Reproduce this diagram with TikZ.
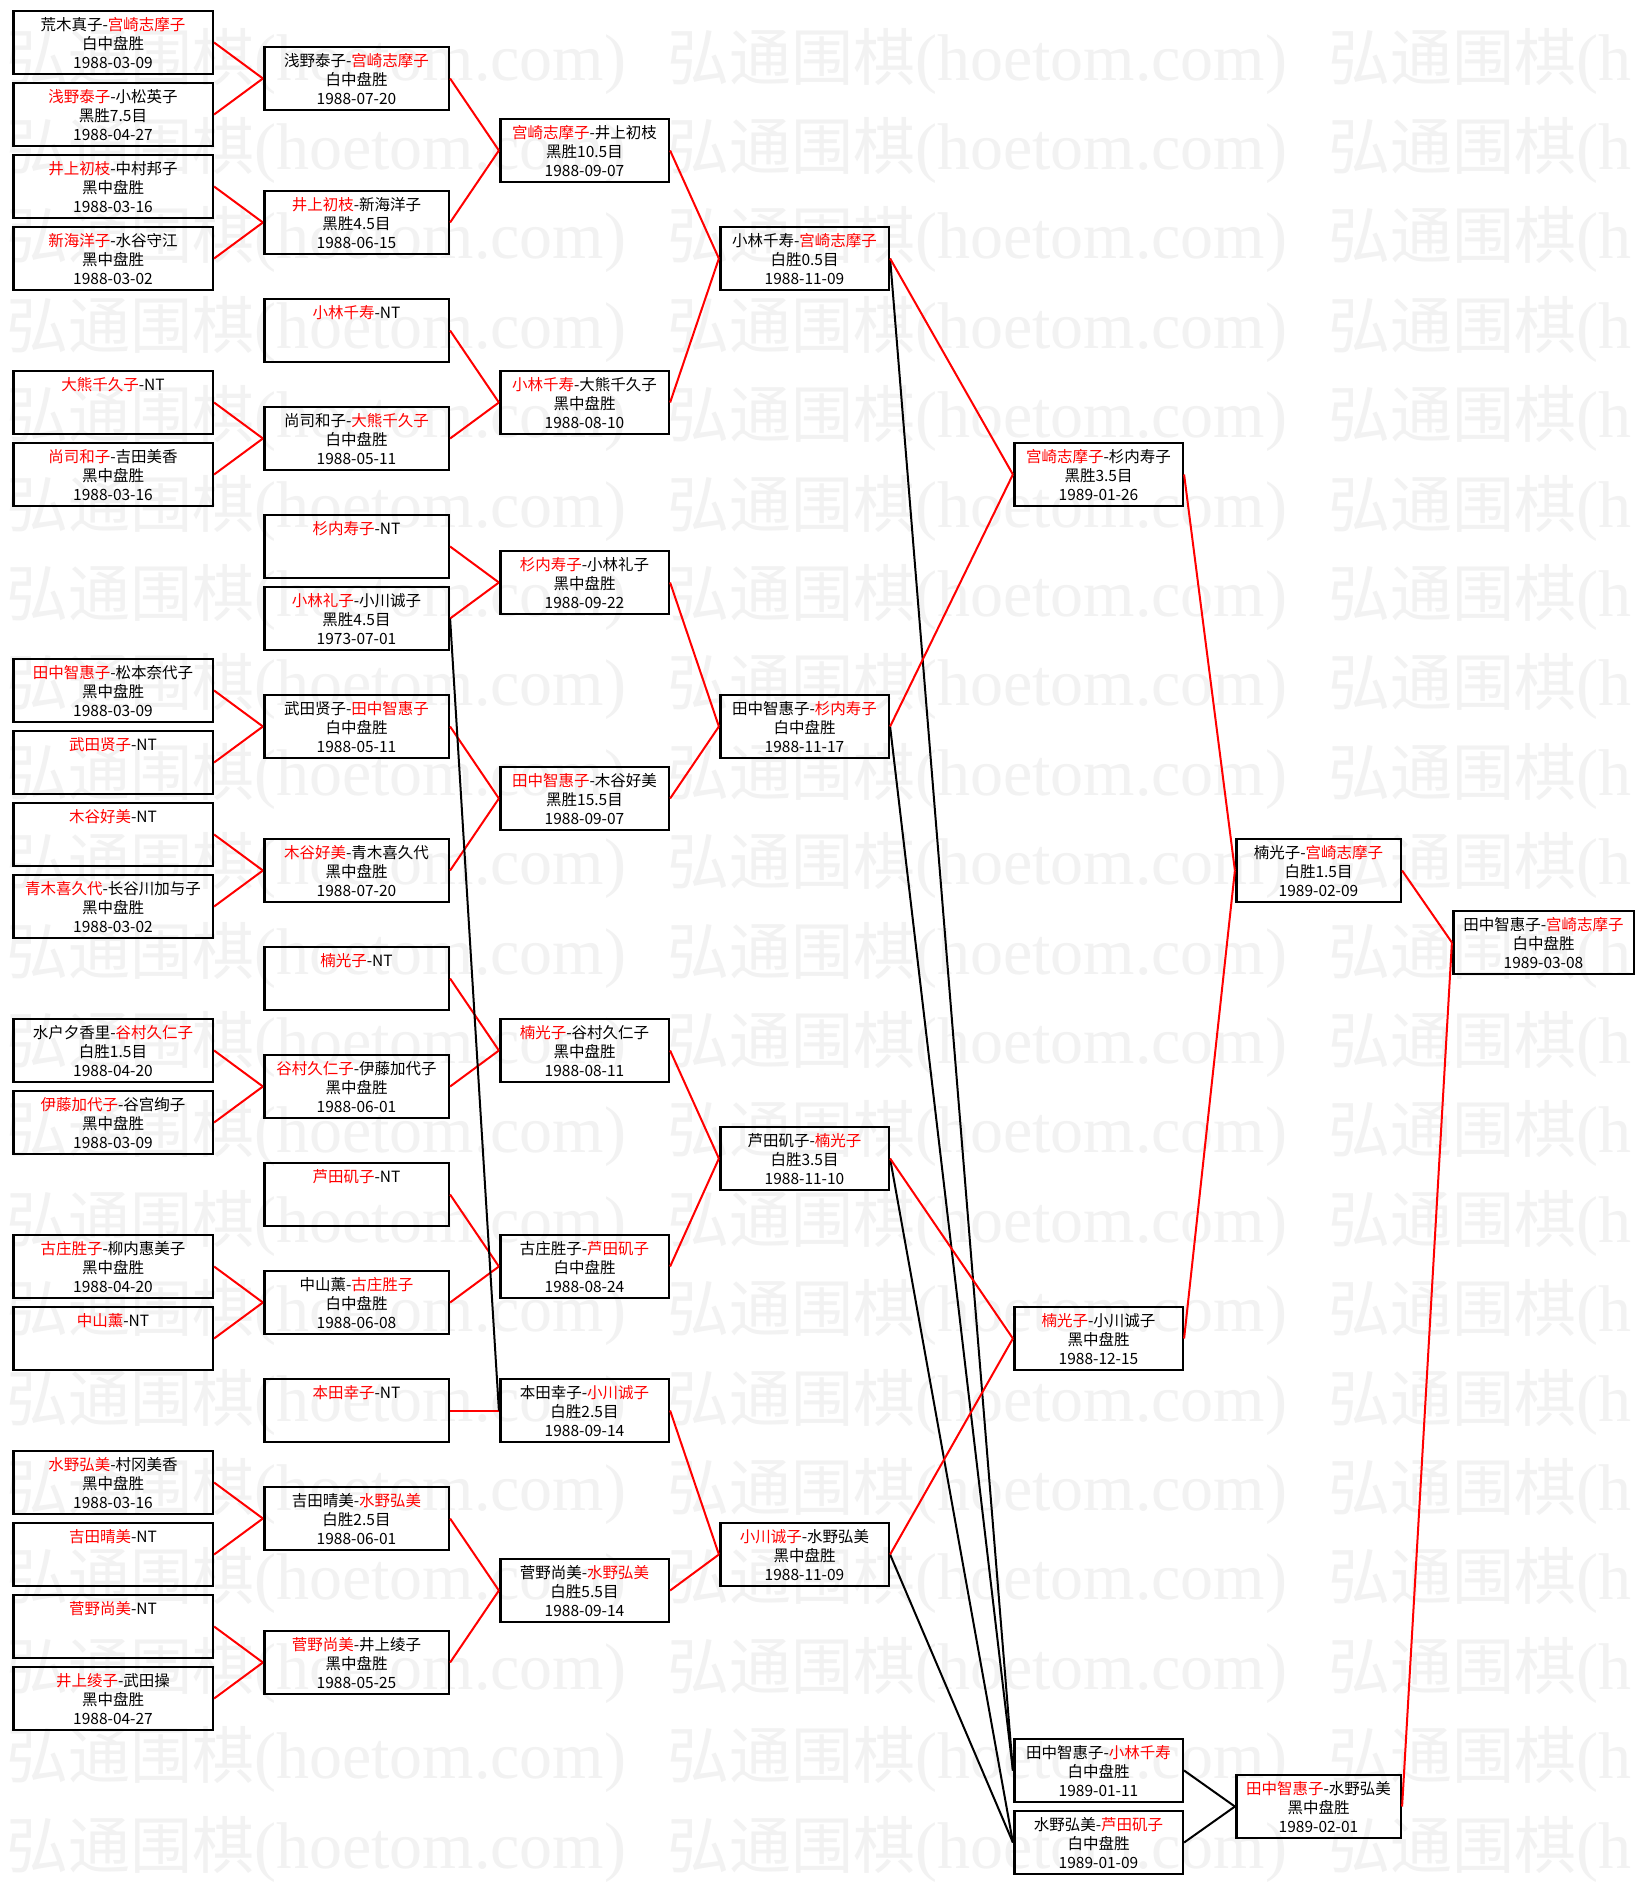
\documentclass[tikz,border=0pt]{standalone}
\usepackage{fontspec}
\setmainfont{Noto Sans CJK SC}
\newfontfamily\wmlat{Liberation Serif}
\newcommand\rd[1]{\textcolor{red}{#1}}
\newcommand\trio[3]{\vbox{\offinterlineskip\halign{\hfil##\hfil\cr\rule[-3pt]{0pt}{22.7pt}#1\cr\rule[-3pt]{0pt}{18.7pt}#2\cr\rule[-5.9pt]{0pt}{21.6pt}#3\cr}}}
\begin{document}
\begin{tikzpicture}[x=1pt,y=-1pt,font=\fontsize{15.5}{18.7}\selectfont,
  bx/.style={draw=black, line width=2.6pt, inner sep=0pt, minimum height=63pt, text=black},
  c1/.style={bx, minimum width=199.6pt},
  c2/.style={bx, minimum width=184.6pt},
  c3/.style={bx, minimum width=168.6pt},
  c6/.style={bx, minimum width=164.6pt},
  c7/.style={bx, minimum width=180.6pt},
  rl/.style={draw=red, line width=2pt},
  bl/.style={draw=black, line width=2pt},
  wm/.style={text=black!5, font=\fontsize{62}{62}\selectfont, inner sep=0pt, anchor=west}]
\useasboundingbox (0,0) rectangle (1647,1885);
\fill[white] (0,0) rectangle (1647,1885);
\foreach \j in {0,...,20}{
  \node[wm] (wma-\j) at (6,{61+89.4*\j}) {弘通围棋{\wmlat\fontsize{66}{66}\selectfont(hoetom.com)}};
  \node[wm] (wmb-\j) at (667,{61+89.4*\j}) {弘通围棋{\wmlat\fontsize{66}{66}\selectfont(hoetom.com)}};
  \node[wm] (wmc-\j) at (1328,{61+89.4*\j}) {弘通围棋{\wmlat\fontsize{66}{66}\selectfont(h}};
}
% column 1
\node[c1] (A0) at (113,42.5) {\trio{荒木真子-\rd{宫崎志摩子}}{白中盘胜}{1988-03-09}};
\node[c1] (A1) at (113,114.5) {\trio{\rd{浅野泰子}-小松英子}{黑胜7.5目}{1988-04-27}};
\node[c1] (A2) at (113,186.5) {\trio{\rd{井上初枝}-中村邦子}{黑中盘胜}{1988-03-16}};
\node[c1] (A3) at (113,258.5) {\trio{\rd{新海洋子}-水谷守江}{黑中盘胜}{1988-03-02}};
\node[c1] (A5) at (113,402.5) {\trio{\rd{大熊千久子}-NT}{}{}};
\node[c1] (A6) at (113,474.5) {\trio{\rd{尚司和子}-吉田美香}{黑中盘胜}{1988-03-16}};
\node[c1] (A9) at (113,690.5) {\trio{\rd{田中智惠子}-松本奈代子}{黑中盘胜}{1988-03-09}};
\node[c1] (A10) at (113,762.5) {\trio{\rd{武田贤子}-NT}{}{}};
\node[c1] (A11) at (113,834.5) {\trio{\rd{木谷好美}-NT}{}{}};
\node[c1] (A12) at (113,906.5) {\trio{\rd{青木喜久代}-长谷川加与子}{黑中盘胜}{1988-03-02}};
\node[c1] (A14) at (113,1050.5) {\trio{水户夕香里-\rd{谷村久仁子}}{白胜1.5目}{1988-04-20}};
\node[c1] (A15) at (113,1122.5) {\trio{\rd{伊藤加代子}-谷宫绚子}{黑中盘胜}{1988-03-09}};
\node[c1] (A17) at (113,1266.5) {\trio{\rd{古庄胜子}-柳内惠美子}{黑中盘胜}{1988-04-20}};
\node[c1] (A18) at (113,1338.5) {\trio{\rd{中山薰}-NT}{}{}};
\node[c1] (A20) at (113,1482.5) {\trio{\rd{水野弘美}-村冈美香}{黑中盘胜}{1988-03-16}};
\node[c1] (A21) at (113,1554.5) {\trio{\rd{吉田晴美}-NT}{}{}};
\node[c1] (A22) at (113,1626.5) {\trio{\rd{菅野尚美}-NT}{}{}};
\node[c1] (A23) at (113,1698.5) {\trio{\rd{井上绫子}-武田操}{黑中盘胜}{1988-04-27}};
% column 2
\node[c2] (B0) at (356.5,78.5) {\trio{浅野泰子-\rd{宫崎志摩子}}{白中盘胜}{1988-07-20}};
\node[c2] (B2) at (356.5,222.5) {\trio{\rd{井上初枝}-新海洋子}{黑胜4.5目}{1988-06-15}};
\node[c2] (B4) at (356.5,330.5) {\trio{\rd{小林千寿}-NT}{}{}};
\node[c2] (B5) at (356.5,438.5) {\trio{尚司和子-\rd{大熊千久子}}{白中盘胜}{1988-05-11}};
\node[c2] (B7) at (356.5,546.5) {\trio{\rd{杉内寿子}-NT}{}{}};
\node[c2] (B8) at (356.5,618.5) {\trio{\rd{小林礼子}-小川诚子}{黑胜4.5目}{1973-07-01}};
\node[c2] (B9) at (356.5,726.5) {\trio{武田贤子-\rd{田中智惠子}}{白中盘胜}{1988-05-11}};
\node[c2] (B11) at (356.5,870.5) {\trio{\rd{木谷好美}-青木喜久代}{黑中盘胜}{1988-07-20}};
\node[c2] (B13) at (356.5,978.5) {\trio{\rd{楠光子}-NT}{}{}};
\node[c2] (B14) at (356.5,1086.5) {\trio{\rd{谷村久仁子}-伊藤加代子}{黑中盘胜}{1988-06-01}};
\node[c2] (B16) at (356.5,1194.5) {\trio{\rd{芦田矶子}-NT}{}{}};
\node[c2] (B17) at (356.5,1302.5) {\trio{中山薰-\rd{古庄胜子}}{白中盘胜}{1988-06-08}};
\node[c2] (B19) at (356.5,1410.5) {\trio{\rd{本田幸子}-NT}{}{}};
\node[c2] (B20) at (356.5,1518.5) {\trio{吉田晴美-\rd{水野弘美}}{白胜2.5目}{1988-06-01}};
\node[c2] (B22) at (356.5,1662.5) {\trio{\rd{菅野尚美}-井上绫子}{黑中盘胜}{1988-05-25}};
% column 3
\node[c3] (C1) at (584.5,150.5) {\trio{\rd{宫崎志摩子}-井上初枝}{黑胜10.5目}{1988-09-07}};
\node[c3] (C5) at (584.5,402.5) {\trio{\rd{小林千寿}-大熊千久子}{黑中盘胜}{1988-08-10}};
\node[c3] (C7) at (584.5,582.5) {\trio{\rd{杉内寿子}-小林礼子}{黑中盘胜}{1988-09-22}};
\node[c3] (C10) at (584.5,798.5) {\trio{\rd{田中智惠子}-木谷好美}{黑胜15.5目}{1988-09-07}};
\node[c3] (C14) at (584.5,1050.5) {\trio{\rd{楠光子}-谷村久仁子}{黑中盘胜}{1988-08-11}};
\node[c3] (C17) at (584.5,1266.5) {\trio{古庄胜子-\rd{芦田矶子}}{白中盘胜}{1988-08-24}};
\node[c3] (C19) at (584.5,1410.5) {\trio{本田幸子-\rd{小川诚子}}{白胜2.5目}{1988-09-14}};
\node[c3] (C21) at (584.5,1590.5) {\trio{菅野尚美-\rd{水野弘美}}{白胜5.5目}{1988-09-14}};
% column 4
\node[c3] (D3) at (804.5,258.5) {\trio{小林千寿-\rd{宫崎志摩子}}{白胜0.5目}{1988-11-09}};
\node[c3] (D9) at (804.5,726.5) {\trio{田中智惠子-\rd{杉内寿子}}{白中盘胜}{1988-11-17}};
\node[c3] (D15) at (804.5,1158.5) {\trio{芦田矶子-\rd{楠光子}}{白胜3.5目}{1988-11-10}};
\node[c3] (D21) at (804.5,1554.5) {\trio{\rd{小川诚子}-水野弘美}{黑中盘胜}{1988-11-09}};
% column 5
\node[c3] (E6) at (1098.5,474.5) {\trio{\rd{宫崎志摩子}-杉内寿子}{黑胜3.5目}{1989-01-26}};
\node[c3] (E18) at (1098.5,1338.5) {\trio{\rd{楠光子}-小川诚子}{黑中盘胜}{1988-12-15}};
\node[c3] (E24) at (1098.5,1770.5) {\trio{田中智惠子-\rd{小林千寿}}{白中盘胜}{1989-01-11}};
\node[c3] (E25) at (1098.5,1842.5) {\trio{水野弘美-\rd{芦田矶子}}{白中盘胜}{1989-01-09}};
% column 6
\node[c6] (F11) at (1318.5,870.5) {\trio{楠光子-\rd{宫崎志摩子}}{白胜1.5目}{1989-02-09}};
\node[c6] (F24) at (1318.5,1806.5) {\trio{\rd{田中智惠子}-水野弘美}{黑中盘胜}{1989-02-01}};
% column 7
\node[c7] (G12) at (1543.5,942.5) {\trio{田中智惠子-\rd{宫崎志摩子}}{白中盘胜}{1989-03-08}};
% connectors col1 -> col2
\draw[rl] (A0.east) -- (B0.west);
\draw[rl] (A1.east) -- (B0.west);
\draw[rl] (A2.east) -- (B2.west);
\draw[rl] (A3.east) -- (B2.west);
\draw[rl] (A5.east) -- (B5.west);
\draw[rl] (A6.east) -- (B5.west);
\draw[rl] (A9.east) -- (B9.west);
\draw[rl] (A10.east) -- (B9.west);
\draw[rl] (A11.east) -- (B11.west);
\draw[rl] (A12.east) -- (B11.west);
\draw[rl] (A14.east) -- (B14.west);
\draw[rl] (A15.east) -- (B14.west);
\draw[rl] (A17.east) -- (B17.west);
\draw[rl] (A18.east) -- (B17.west);
\draw[rl] (A20.east) -- (B20.west);
\draw[rl] (A21.east) -- (B20.west);
\draw[rl] (A22.east) -- (B22.west);
\draw[rl] (A23.east) -- (B22.west);
% col2 -> col3
\draw[rl] (B0.east) -- (C1.west);
\draw[rl] (B2.east) -- (C1.west);
\draw[rl] (B4.east) -- (C5.west);
\draw[rl] (B5.east) -- (C5.west);
\draw[rl] (B7.east) -- (C7.west);
\draw[rl] (B8.east) -- (C7.west);
\draw[rl] (B9.east) -- (C10.west);
\draw[rl] (B11.east) -- (C10.west);
\draw[rl] (B13.east) -- (C14.west);
\draw[rl] (B14.east) -- (C14.west);
\draw[rl] (B16.east) -- (C17.west);
\draw[rl] (B17.east) -- (C17.west);
\draw[rl] (B19.east) -- (C19.west);
\draw[bl] (B8.east) -- (C19.west);
\draw[rl] (B20.east) -- (C21.west);
\draw[rl] (B22.east) -- (C21.west);
% col3 -> col4
\draw[rl] (C1.east) -- (D3.west);
\draw[rl] (C5.east) -- (D3.west);
\draw[rl] (C7.east) -- (D9.west);
\draw[rl] (C10.east) -- (D9.west);
\draw[rl] (C14.east) -- (D15.west);
\draw[rl] (C17.east) -- (D15.west);
\draw[rl] (C19.east) -- (D21.west);
\draw[rl] (C21.east) -- (D21.west);
% col4 -> col5
\draw[bl] (D3.east) -- (E24.west);
\draw[bl] (D9.east) -- (E24.west);
\draw[bl] (D15.east) -- (E25.west);
\draw[bl] (D21.east) -- (E25.west);
\draw[rl] (D3.east) -- (E6.west);
\draw[rl] (D9.east) -- (E6.west);
\draw[rl] (D15.east) -- (E18.west);
\draw[rl] (D21.east) -- (E18.west);
% col5 -> col6
\draw[rl] (E6.east) -- (F11.west);
\draw[rl] (E18.east) -- (F11.west);
\draw[bl] (E24.east) -- (F24.west);
\draw[bl] (E25.east) -- (F24.west);
% col6 -> col7
\draw[rl] (F11.east) -- (G12.west);
\draw[rl] (F24.east) -- (G12.west);
\end{tikzpicture}
\end{document}
